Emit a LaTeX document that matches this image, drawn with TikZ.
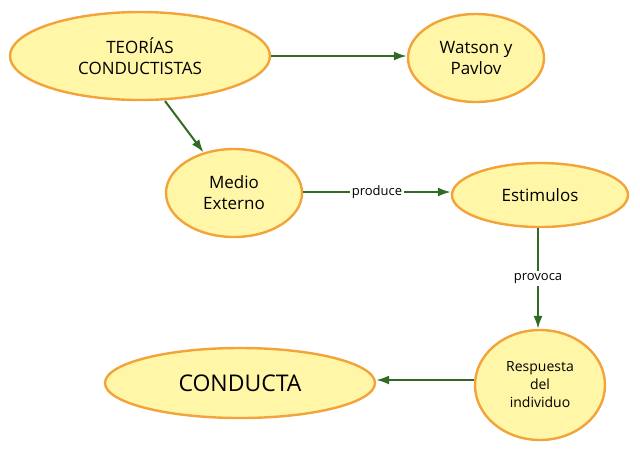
\documentclass[tikz,border=0pt]{standalone}
\usepackage{fontspec}
\setmainfont{Open Sans}
\usetikzlibrary{shapes.geometric,arrows.meta}
\definecolor{fillc}{HTML}{FFF6A8}
\definecolor{edgec}{HTML}{F2A43A}
\definecolor{arr}{HTML}{2F6B22}
\begin{document}
\begin{tikzpicture}[x=1pt,y=-1pt,
  oval/.style={ellipse,draw=edgec,line width=2.4pt,fill=fillc,inner sep=0pt,align=center,font=\fontsize{17}{21}\selectfont},
  conn/.style={draw=arr,line width=2pt,-{Latex[length=13pt,width=9pt]}},
  lbl/.style={fill=white,inner sep=2pt,font=\fontsize{13}{15}\selectfont}]
\useasboundingbox (0,0) rectangle (640,451);
\node[oval,minimum width=260,minimum height=88] (t) at (140,56) {TEORÍAS\\CONDUCTISTAS};
\node[oval,minimum width=136,minimum height=88] (w) at (476,58) {Watson y\\Pavlov};
\node[oval,minimum width=136,minimum height=88] (m) at (234,193) {Medio\\Externo};
\node[oval,minimum width=176,minimum height=64] (e) at (540,195) {Estimulos};
\node[oval,minimum width=130,minimum height=110,font=\fontsize{14}{18}\selectfont] (r) at (540,385) {Respuesta\\del\\individuo};
\node[oval,minimum width=270,minimum height=70,font=\fontsize{23}{27}\selectfont] (c) at (240,383) {CONDUCTA};
\draw[conn] (t.east |- 0,56) -- (w.west |- 0,56);
\draw[conn] (165,101) -- (m);
\draw[conn] (m.east |- 0,192) -- node[lbl]{produce} (e.west |- 0,192);
\draw[conn] (538,228) -- node[lbl]{provoca} (r.north -| 538,0);
\draw[conn] (r.west |- 0,380) -- (c.east |- 0,380);
\end{tikzpicture}
\end{document}
